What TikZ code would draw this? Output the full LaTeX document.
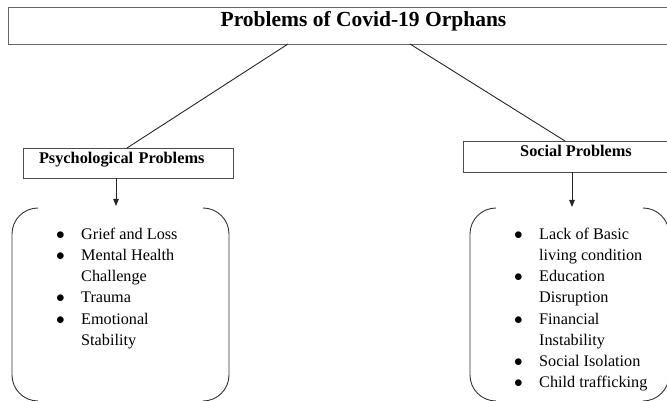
\documentclass[tikz,border=0pt]{standalone}
\usepackage{fontspec}
\setmainfont{Liberation Serif}
\usetikzlibrary{arrows.meta}
\newcommand{\bul}{\makebox[25pt][l]{$\bullet$}}
\newcommand{\cont}{\hspace*{25pt}}
\newcommand{\bracketpair}[1]{%
  \draw[brk] ([xshift=26pt]#1.north west) arc[start angle=90,end angle=180,radius=26pt]
    -- ([yshift=26pt]#1.south west) arc[start angle=180,end angle=270,radius=26pt];
  \draw[brk] ([xshift=-26pt]#1.north east) arc[start angle=90,end angle=0,radius=26pt]
    -- ([yshift=26pt]#1.south east) arc[start angle=0,end angle=-90,radius=26pt];}

\begin{document}
\begin{tikzpicture}[x=1pt,y=-1pt,
  headbox/.style={draw=black!60, line width=0.9pt, inner sep=0pt, outer sep=0pt, font=\fontsize{21.5}{24}\selectfont\bfseries},
  topicbox/.style={draw=black!70, line width=0.8pt, inner ysep=0pt, outer sep=0pt, text height=11pt, text depth=10pt, font=\fontsize{16.3}{19}\selectfont\bfseries},
  frame/.style={inner sep=0pt, outer sep=0pt},
  listtext/.style={align=left, inner sep=0pt, anchor=north west, font=\fontsize{16.2}{21.1}\selectfont},
  brk/.style={draw=black!80, line width=0.9pt},
  link/.style={draw=black!85, line width=0.9pt},
  >={Triangle[width=5.5pt,length=7pt]}]
  \useasboundingbox (0,0) rectangle (667,401);
  \node[headbox, minimum width=711pt, minimum height=37pt, text height=15pt, text depth=12pt] (title) at (363.5,25.5) {Problems of Covid-19 Orphans};
  \node[topicbox, minimum width=210pt, minimum height=30pt, inner xsep=16pt, text width=178pt, align=left] (psych) at (128,163) {Psychological Problems};
  \node[topicbox, minimum width=226pt, minimum height=31pt] (social) at (576,156.5) {Social Problems};
  \node[frame, minimum width=217pt, minimum height=193pt] (psyframe) at (120.5,304.5) {};
  \node[frame, minimum width=199pt, minimum height=193pt] (socframe) at (569.5,304.5) {};
  \bracketpair{psyframe}
  \bracketpair{socframe}
  % lists
  \node[listtext] (psylist) at (56,228) {\bul Grief and Loss\\ \bul Mental Health\\ \cont Challenge\\ \bul Trauma\\ \bul Emotional\\ \cont Stability};
  \node[listtext] (soclist) at (514,228) {\bul Lack of Basic\\ \cont living condition\\ \bul Education\\ \cont Disruption\\ \bul Financial\\ \cont Instability\\ \bul Social Isolation\\ \bul Child trafficking};
  \draw[link] ([xshift=-75.5pt]title.south) -- ([xshift=-1pt]psych.north);
  \draw[link] ([xshift=46.5pt]title.south) -- ([xshift=-11pt]social.north);
  \draw[link,->] ([xshift=-12pt]psych.south) -- ([xshift=-4.5pt,yshift=2pt]psyframe.north);
  \draw[link,->] ([xshift=-4pt]social.south) -- ([xshift=2.5pt,yshift=1pt]socframe.north);
\end{tikzpicture}
\end{document}
